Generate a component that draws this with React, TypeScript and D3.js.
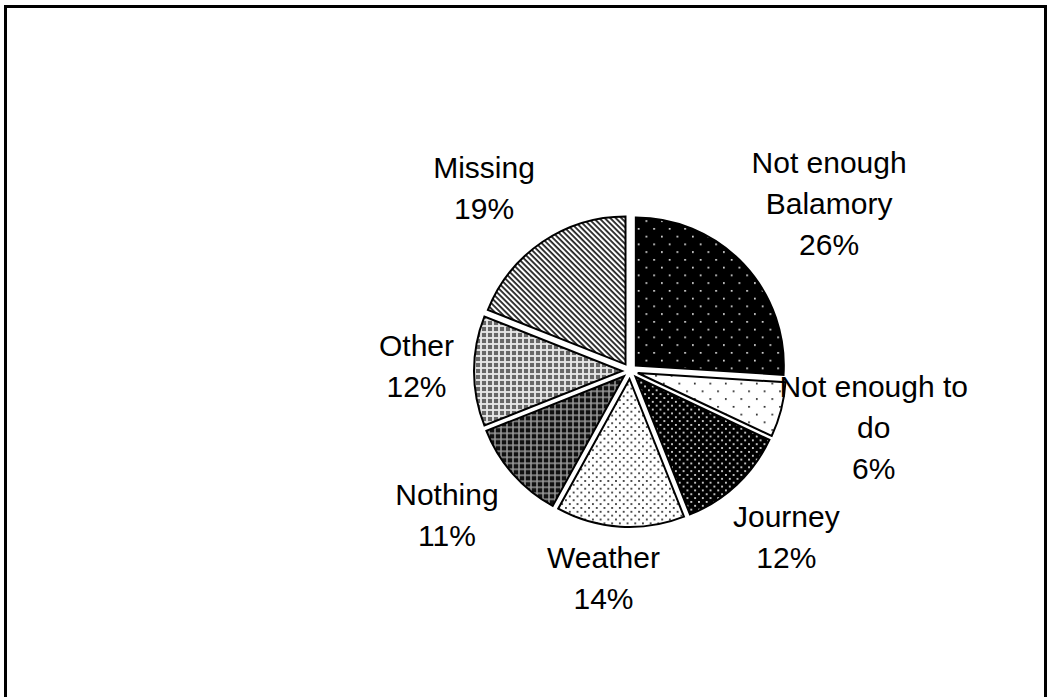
import React from "react";
import * as d3 from "d3";

const categoryLines: string[][] = [
  ["Not enough", "Balamory"],
  ["Not enough to", "do"],
  ["Journey"],
  ["Weather"],
  ["Nothing"],
  ["Other"],
  ["Missing"],
];
const values: number[] = [26, 6, 12, 14, 11, 12, 19];
const patternIds: string[] = ["pBal", "pNetd", "pJour", "pWeat", "pNoth", "pOther", "pMiss"];
// small layout nudges for label boxes (layout only)
const labelNudge: [number, number][] = [
  [15, -6],
  [-17, -2],
  [0, 9],
  [-12, -9],
  [-13, 1],
  [-1, -5],
  [-19, -4],
];

const W = 1049;
const H = 697;
const CX = 630;
const CY = 371;
const R = 148;
const EXPLODE = 8;
const FONT_SIZE = 30;
const LINE_H = 41;
const LABEL_R = 175;
const FONT = "Liberation Sans, Arial, sans-serif";

function measure(text: string): number {
  if (typeof document === "undefined") return text.length * FONT_SIZE * 0.55;
  const c = document.createElement("canvas");
  const ctx = c.getContext("2d");
  if (!ctx) return text.length * FONT_SIZE * 0.55;
  ctx.font = `${FONT_SIZE}px "Liberation Sans", Arial, sans-serif`;
  return ctx.measureText(text).width;
}

export default function App() {
  const pie = d3.pie<number>().sort(null).value((d) => d);
  const arcs = pie(values);
  const arc = d3.arc<d3.PieArcDatum<number>>().innerRadius(0).outerRadius(R);

  return (
    <svg
      width={W}
      height={H}
      style={{ position: "fixed", left: 0, top: 0, background: "#fff" }}
    >
      <defs>
        <pattern id="pBal" width={15.5} height={15.5} patternUnits="userSpaceOnUse">
          <rect width={15.5} height={15.5} fill="#000" />
          <rect x={2} y={2} width={1.6} height={1.6} fill="#fff" />
          <rect x={9.75} y={9.75} width={1.6} height={1.6} fill="#fff" />
        </pattern>
        <pattern id="pNetd" width={15.5} height={15.5} patternUnits="userSpaceOnUse">
          <rect width={15.5} height={15.5} fill="#fff" />
          <rect x={2} y={2} width={1.6} height={1.6} fill="#000" />
          <rect x={9.75} y={9.75} width={1.6} height={1.6} fill="#000" />
        </pattern>
        <pattern id="pJour" width={7.7} height={7.7} patternUnits="userSpaceOnUse">
          <rect width={7.7} height={7.7} fill="#000" />
          <rect x={1} y={1} width={1.8} height={1.8} fill="#ddd" />
          <rect x={4.85} y={4.85} width={1.8} height={1.8} fill="#ddd" />
        </pattern>
        <pattern id="pWeat" width={7.7} height={7.7} patternUnits="userSpaceOnUse">
          <rect width={7.7} height={7.7} fill="#fff" />
          <rect x={1} y={1} width={1.8} height={1.8} fill="#333" />
          <rect x={4.85} y={4.85} width={1.8} height={1.8} fill="#333" />
        </pattern>
        <pattern id="pNoth" width={6} height={6} patternUnits="userSpaceOnUse">
          <rect width={6} height={6} fill="#111" />
          <rect x={0} y={2} width={6} height={2} fill="#777" />
          <rect x={2} y={0} width={2} height={6} fill="#777" />
          <rect x={2.5} y={2.5} width={1} height={1} fill="#ddd" />
        </pattern>
        <pattern id="pOther" width={6} height={6} patternUnits="userSpaceOnUse">
          <rect width={6} height={6} fill="#666" />
          <rect x={0} y={2} width={6} height={2} fill="#ddd" />
          <rect x={2} y={0} width={2} height={6} fill="#ddd" />
          <rect x={2.5} y={2.5} width={1} height={1} fill="#fff" />
        </pattern>
        <pattern
          id="pMiss"
          width={3.9}
          height={3.9}
          patternUnits="userSpaceOnUse"
          patternTransform="rotate(45)"
        >
          <rect width={3.9} height={3.9} fill="#fff" />
          <rect width={3.9} height={1.8} fill="#222" />
        </pattern>
      </defs>

      <rect x={5.5} y={6.5} width={1040} height={720} fill="none" stroke="#000" strokeWidth={3} />

      <g transform={`translate(${CX},${CY})`}>
        {arcs.map((a, i) => {
          const mid = (a.startAngle + a.endAngle) / 2;
          const dx = Math.sin(mid) * EXPLODE;
          const dy = -Math.cos(mid) * EXPLODE;
          return (
            <path
              key={i}
              d={arc(a) || ""}
              transform={`translate(${dx},${dy})`}
              fill={`url(#${patternIds[i]})`}
              stroke="#000"
              strokeWidth={2}
              strokeLinejoin="miter"
            />
          );
        })}
        {arcs.map((a, i) => {
          const mid = (a.startAngle + a.endAngle) / 2;
          const lines = [...categoryLines[i], `${values[i]}%`];
          const w = Math.max(...lines.map(measure));
          const h = lines.length * LINE_H;
          const lx = Math.sin(mid) * (LABEL_R + w / 2) + labelNudge[i][0];
          const ly = -Math.cos(mid) * (LABEL_R + h / 2) + labelNudge[i][1];
          return (
            <text
              key={`l${i}`}
              x={lx}
              y={ly}
              textAnchor="middle"
              fontFamily={FONT}
              fontSize={FONT_SIZE}
              fill="#000"
            >
              {lines.map((ln, j) => (
                <tspan
                  key={j}
                  x={lx}
                  y={ly + (j - (lines.length - 1) / 2) * LINE_H}
                  dominantBaseline="central"
                >
                  {ln}
                </tspan>
              ))}
            </text>
          );
        })}
      </g>
    </svg>
  );
}
